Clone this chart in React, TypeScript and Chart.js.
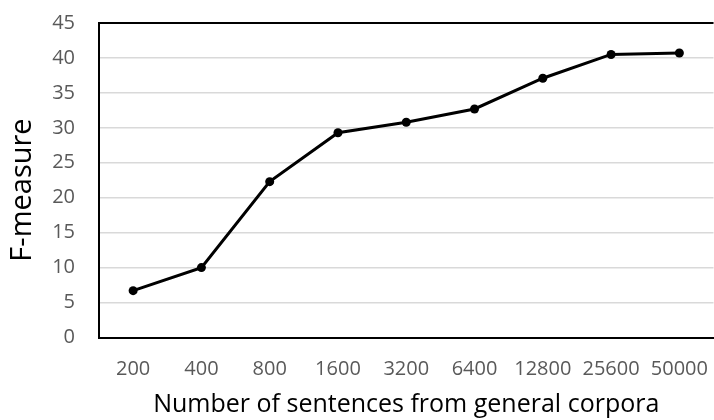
import React, { useEffect, useRef } from "react";
import { Chart, registerables } from "chart.js";

Chart.register(...registerables);

const categories = ["200", "400", "800", "1600", "3200", "6400", "12800", "25600", "50000"];
const fMeasure = [6.7, 10.0, 22.3, 29.3, 30.8, 32.7, 37.1, 40.5, 40.7];
const yMin = 0;
const yMax = 45;
const yStep = 5;
const xTitle = "Number of sentences from general corpora";
const yTitle = "F-measure";

const FONT = "'Open Sans', 'Noto Sans', sans-serif";

const frameAndTitle = {
  id: "frameAndTitle",
  afterDraw(chart: any) {
    const { ctx, chartArea } = chart;
    ctx.save();
    ctx.strokeStyle = "#000000";
    ctx.lineWidth = 2;
    ctx.beginPath();
    ctx.moveTo(chartArea.left - 1, chartArea.top);
    ctx.lineTo(chartArea.right, chartArea.top);
    ctx.stroke();
    ctx.restore();

    ctx.save();
    ctx.translate(23, 190);
    ctx.rotate(-Math.PI / 2);
    ctx.fillStyle = "#000000";
    ctx.font = `29px ${FONT}`;
    ctx.textAlign = "center";
    ctx.textBaseline = "middle";
    ctx.fillText(yTitle, 0, 0);
    ctx.restore();
  },
};

export default function App() {
  const ref = useRef<HTMLCanvasElement>(null);

  useEffect(() => {
    if (!ref.current) return;
    const chart = new Chart(ref.current, {
      type: "line",
      data: {
        labels: categories,
        datasets: [
          {
            data: fMeasure,
            borderColor: "#000000",
            backgroundColor: "#000000",
            borderWidth: 3,
            pointRadius: 4.5,
            pointBackgroundColor: "#000000",
            pointBorderColor: "#000000",
            pointBorderWidth: 0,
            tension: 0,
            fill: false,
          },
        ],
      },
      options: {
        animation: false,
        responsive: false,
        maintainAspectRatio: false,
        layout: { padding: { top: 23, left: 0, right: 0, bottom: 0 } },
        plugins: {
          legend: { display: false },
          tooltip: { enabled: false },
        },
        scales: {
          x: {
            offset: true,
            grid: {
              display: true,
              drawOnChartArea: false,
              drawTicks: true,
              tickLength: 20,
              tickColor: "rgba(0,0,0,0)",
              color: "rgba(0,0,0,0)",
            },
            border: { display: true, color: "#000000", width: 2 },
            ticks: {
              color: "#595959",
              font: { family: FONT, size: 20 },
              padding: 0,
              maxRotation: 0,
              autoSkip: false,
            },
            title: {
              display: true,
              text: xTitle,
              color: "#000000",
              font: { family: FONT, size: 25, lineHeight: 1.2 },
              padding: { top: 0, bottom: 0 },
            },
            afterFit(scale: any) {
              scale.height = 82.5;
            },
          },
          y: {
            min: yMin,
            max: yMax,
            grid: {
              color: "#d9d9d9",
              lineWidth: 1.5,
              drawTicks: true,
              tickLength: 24,
              tickColor: "rgba(0,0,0,0)",
            },
            border: { display: true, color: "#000000", width: 2 },
            ticks: {
              stepSize: yStep,
              color: "#595959",
              font: { family: FONT, size: 20 },
              padding: 0,
            },
            title: { display: false, text: yTitle },
            afterFit(scale: any) {
              scale.width = 99;
            },
          },
        },
      },
      plugins: [frameAndTitle],
    });
    return () => chart.destroy();
  }, []);

  return (
    <div style={{ position: "absolute", left: 0, top: 0, width: 714, height: 420, overflow: "hidden" }}>
      <canvas ref={ref} width={718} height={420} style={{ width: 718, height: 420 }} />
    </div>
  );
}
